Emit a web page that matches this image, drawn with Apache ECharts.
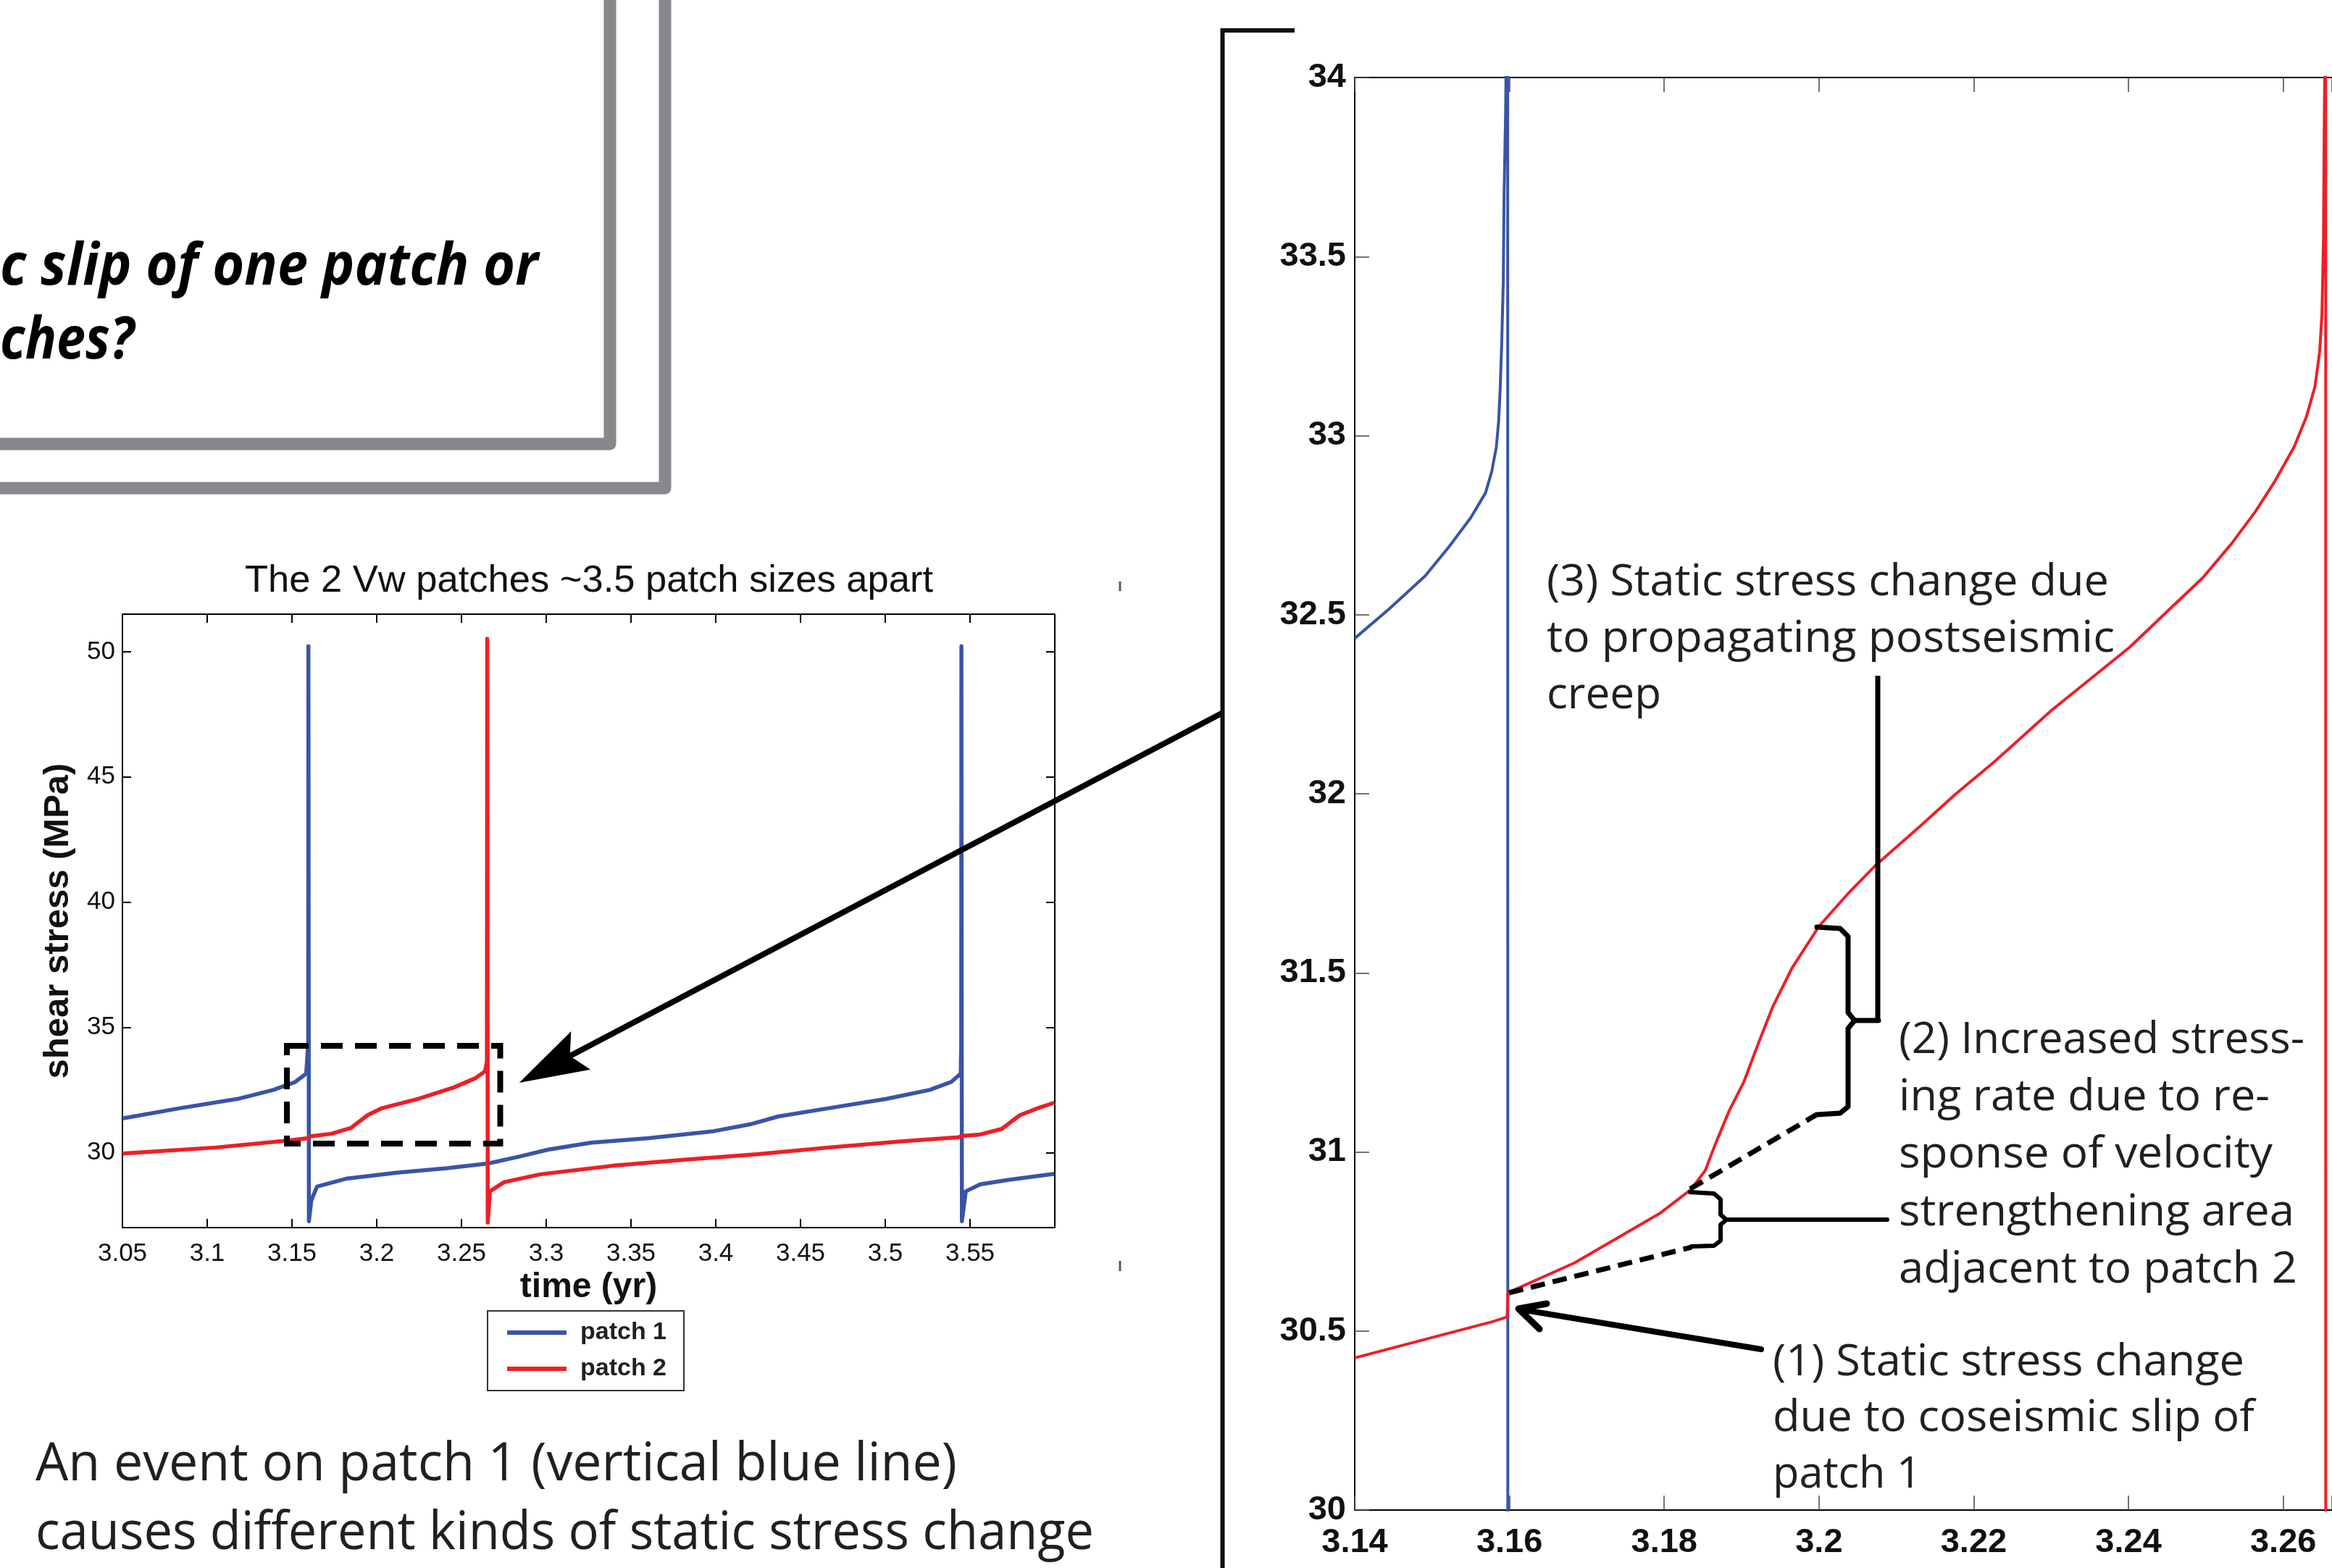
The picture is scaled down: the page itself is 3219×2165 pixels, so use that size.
<!DOCTYPE html>
<html><head><meta charset="utf-8">
<script src="https://cdn.jsdelivr.net/npm/echarts@6/dist/echarts.min.js"></script>
<style>html,body{margin:0;padding:0;background:#fff}#c{width:3219px;height:2165px}</style>
</head><body><div id="c"></div>
<script>
// ---------------- data ----------------
// overview plot: time (yr), shear stress (MPa)
const patch1Overview = [
  [3.05,31.36],[3.084,31.77],[3.118,32.14],[3.139,32.50],[3.152,32.82],[3.1584,33.15],[3.1596,34.35],
  [3.1597,50.22],[3.1600,27.25],[3.1614,28.08],[3.1648,28.64],[3.1818,28.95],[3.2116,29.19],[3.2413,29.37],
  [3.2656,29.56],[3.2838,29.83],[3.3008,30.11],[3.3264,30.39],[3.3604,30.57],[3.3986,30.85],[3.42,31.12],
  [3.4369,31.44],[3.4667,31.77],[3.5007,32.14],[3.5262,32.50],[3.539,32.82],[3.5445,33.15],[3.5448,34.35],
  [3.5449,50.22],[3.5452,27.25],[3.5475,28.45],[3.556,28.73],[3.573,28.91],[3.5997,29.15]
];
const patch2Overview = [
  [3.05,29.96],[3.1053,30.2],[3.1478,30.48],[3.1597,30.57],[3.1600,30.64],[3.1733,30.75],[3.1848,30.98],
  [3.1946,31.49],[3.2031,31.77],[3.2243,32.14],[3.2456,32.60],[3.2583,32.97],[3.2639,33.24],[3.2650,33.61],
  [3.2652,50.52],[3.2655,27.2],[3.2668,28.45],[3.2753,28.82],[3.2966,29.13],[3.3391,29.47],[3.3816,29.71],
  [3.4241,29.93],[3.4667,30.2],[3.5092,30.44],[3.5432,30.61],[3.545,30.66],[3.556,30.72],[3.5687,30.94],
  [3.5794,31.49],[3.59,31.77],[3.5997,31.99]
];
// zoomed plot
const patch1Zoom = [
  [3.14,32.434],[3.1444,32.515],[3.1491,32.608],[3.1522,32.69],[3.155,32.771],[3.1569,32.84],[3.1577,32.899],
  [3.1583,32.968],[3.1586,33.04],[3.1588,33.13],[3.159,33.26],[3.1592,33.43],[3.1593,33.67],[3.1595,33.9],
  [3.1596,34.1],[3.1597,50.2],[3.1598,27.3],[3.1614,28.08],[3.1648,28.64],[3.1818,28.95],[3.2116,29.19],
  [3.2413,29.37],[3.2656,29.56]
];
const patch2Zoom = [
  [3.14,30.425],[3.1578,30.526],[3.1597,30.539],[3.1598,30.607],[3.1684,30.69],[3.1738,30.758],[3.1794,30.828],
  [3.1834,30.894],[3.1853,30.948],[3.1865,31.016],[3.1884,31.115],[3.1903,31.196],[3.1922,31.305],[3.194,31.404],
  [3.1965,31.513],[3.2,31.63],[3.2037,31.72],[3.2074,31.802],[3.2131,31.91],[3.2177,32.0],[3.2227,32.09],
  [3.23,32.232],[3.2402,32.41],[3.2449,32.507],[3.2496,32.603],[3.2533,32.698],[3.2564,32.788],[3.2589,32.872],
  [3.2614,32.968],[3.263,33.053],[3.2641,33.137],[3.2647,33.233],[3.265,33.338],[3.2652,33.55],[3.2653,33.87],
  [3.2654,34.1],[3.26545,50.5],[3.2655,27.2]
];
const overviewStressTicks = [30, 35, 40, 45, 50];
const seriesNames = ['patch 1', 'patch 2'];

// ---------------- styling ----------------
const BLUE = '#3a54a5', RED = '#ee1f25', INK = '#231f20';
const ctx2d = document.createElement('canvas').getContext('2d');
function fitText(str, x, baseline, targetW, size, o) {
  o = o || {};
  const family = o.family || 'Open Sans', weight = o.weight || 'normal', fstyle = o.fstyle || 'normal';
  ctx2d.font = fstyle + ' ' + weight + ' ' + size + 'px "' + family + '"';
  const w = ctx2d.measureText(str).width;
  const mid = o.mid != null ? o.mid : (family === 'Open Sans' ? 0.30 : 0.3465);
  return {
    type: 'text', x: x, y: baseline - mid * size, scaleX: targetW ? targetW / w : 1, z: 100,
    style: { text: str, fontSize: size, fontFamily: family, fontWeight: weight, fontStyle: fstyle,
      fill: o.color || INK, align: o.align || 'left', verticalAlign: 'middle' }
  };
}
function pl(points, width, extra) {
  return Object.assign({ type: 'polyline', z: 100, shape: { points: points },
    style: Object.assign({ stroke: '#000', lineWidth: width, fill: 'none', lineJoin: 'round', lineCap: 'round' }, extra || {}) });
}
const fmt2 = v => { const r = Math.round(v * 100) / 100; return Math.abs(v - r) < 1e-6 ? String(r) : ''; };

const graphics = [
  // slide frame remnants
  { type: 'polyline', shape: { points: [[842, -20], [842, 613], [-20, 613]] }, style: { stroke: '#87888c', lineWidth: 17, fill: 'none', lineJoin: 'round' } },
  { type: 'polyline', shape: { points: [[918, -20], [918, 674], [-20, 674]] }, style: { stroke: '#87888c', lineWidth: 17, fill: 'none', lineJoin: 'round' } },
  fitText('c slip of one patch or', 0, 394, 743, 80, { weight: 'bold', fstyle: 'italic', color: '#000' }),
  fitText('ches?', 0, 496, 185, 80, { weight: 'bold', fstyle: 'italic', color: '#000' }),
  // left chart title
  fitText('The 2 Vw patches ~3.5 patch sizes apart', 813, 821, 950, 52, { family: 'Liberation Sans', align: 'center', color: '#111' }),
  // tiny crop marks
  pl([[1546, 803], [1546, 816]], 3, { stroke: '#555', lineCap: 'butt' }),
  pl([[1546, 1741], [1546, 1755]], 3, { stroke: '#555', lineCap: 'butt' }),
  // zoom window on overview
  { type: 'rect', z: 100, shape: { x: 396, y: 1444, width: 294.5, height: 135 }, style: { stroke: '#000', fill: 'none', lineWidth: 8, lineDash: [30, 17] } },
  // big arrow
  pl([[1688, 984], [783, 1460]], 8, { lineCap: 'butt' }),
  { type: 'polygon', z: 100, shape: { points: [[716.7, 1495], [788.3, 1424], [786.7, 1458], [815, 1476.7]] }, style: { fill: '#000' } },
  // right frame bracket
  pl([[1787, 42], [1687.5, 42], [1687.5, 2200]], 6, { stroke: '#111', lineCap: 'butt', lineJoin: 'miter' }),
  // bottom caption
  fitText('An event on patch 1 (vertical blue line)', 49, 2045, 1272, 74),
  fitText('causes different kinds of static stress change', 49, 2140, 1461, 74),
  // annotation (3)
  fitText('(3) Static stress change due', 2135, 823, 776, 60),
  fitText('to propagating postseismic', 2135, 901, 784, 60),
  fitText('creep', 2135, 979, 158, 60),
  // annotation (2)
  fitText('(2) Increased stress-', 2621, 1455, 560, 60),
  fitText('ing rate due to re-', 2621, 1534, 512, 60),
  fitText('sponse of velocity', 2621, 1613, 516, 60),
  fitText('strengthening area', 2621, 1693, 546, 60),
  fitText('adjacent to patch 2', 2621, 1772, 550, 60),
  // annotation (1)
  fitText('(1) Static stress change', 2447, 1900, 651, 60),
  fitText('due to coseismic slip of', 2447, 1977, 665, 60),
  fitText('patch 1', 2447, 2055, 205, 60),
  // leader for (3)
  pl([[2592, 933], [2592, 1409]], 7, { lineCap: 'butt' }),
  // big brace
  pl([[2508, 1280], [2540, 1282], [2551, 1293], [2551, 1398], [2560, 1409], [2593, 1409]], 7),
  pl([[2560, 1409], [2551, 1420], [2551, 1528], [2540, 1537], [2508, 1539]], 7),
  // small brace + leader for (2)
  pl([[2333, 1646], [2366, 1648], [2375, 1656], [2375, 1677], [2383, 1684], [2605, 1684]], 6),
  pl([[2383, 1684], [2375, 1691], [2375, 1713], [2366, 1720], [2335, 1721]], 6),
  // dashed extrapolations
  pl([[2333, 1641.5], [2508, 1538.8]], 7, { lineDash: [20, 11], lineCap: 'butt' }),
  pl([[2083, 1785], [2335, 1722]], 7, { lineDash: [20, 11], lineCap: 'butt' }),
  // arrow (1)
  pl([[2431, 1863], [2099, 1808]], 8),
  pl([[2135, 1800], [2096, 1807], [2125, 1835]], 9)
];

const axisBlack = { lineStyle: { color: '#000', width: 2 } };
const chart = echarts.init(document.getElementById('c'), null, { renderer: 'canvas' });
chart.setOption({
  animation: false,
  backgroundColor: '#fff',
  grid: [
    { left: 169, top: 848, width: 1287, height: 847, outerBoundsMode: 'none' },
    { left: 1870, top: 107, width: 1349, height: 1978, outerBoundsMode: 'none' }
  ],
  legend: {
    data: seriesNames, orient: 'vertical', left: 673, top: 1810, icon: 'rect', itemWidth: 82, itemHeight: 6,
    itemGap: 10, padding: [10, 24, 10, 27], borderColor: '#333', borderWidth: 2, selectedMode: false,
    textStyle: { fontFamily: 'Liberation Sans', fontWeight: 'bold', fontSize: 34, color: INK, lineHeight: 40, padding: [0, 0, 0, 14] }
  },
  xAxis: [
    { type: 'value', gridIndex: 0, position: 'bottom', min: 3.05, max: 3.6, interval: 0.05,
      axisLine: axisBlack, axisTick: { inside: true, length: 12, lineStyle: { color: '#000', width: 2 } },
      axisLabel: { fontFamily: 'Liberation Sans', fontSize: 35, color: '#111', margin: 19, formatter: v => v > 3.59 ? '' : fmt2(v) },
      splitLine: { show: false },
      name: 'time (yr)', nameLocation: 'middle', nameGap: 59,
      nameTextStyle: { fontFamily: 'Liberation Sans', fontWeight: 'bold', fontSize: 48, color: '#111' } },
    { type: 'value', gridIndex: 0, position: 'top', min: 3.05, max: 3.6, interval: 0.05,
      axisLine: axisBlack, axisTick: { inside: true, length: 12, lineStyle: { color: '#000', width: 2 } },
      axisLabel: { show: false }, splitLine: { show: false } },
    { type: 'value', gridIndex: 1, position: 'bottom', min: 3.14, max: 3.2663, interval: 0.02,
      axisLine: axisBlack, axisTick: { inside: true, length: 20, lineStyle: { color: '#444', width: 1.5 } },
      axisLabel: { fontFamily: 'Liberation Sans', fontWeight: 'bold', fontSize: 47, color: '#111', margin: 22, formatter: fmt2 },
      splitLine: { show: false } },
    { type: 'value', gridIndex: 1, position: 'top', min: 3.14, max: 3.2663, interval: 0.02,
      axisLine: axisBlack, axisTick: { inside: true, length: 20, lineStyle: { color: '#444', width: 1.5 } },
      axisLabel: { show: false }, splitLine: { show: false } }
  ],
  yAxis: [
    { type: 'value', gridIndex: 0, position: 'left', min: 27, max: 51.5,
      axisLine: axisBlack,
      axisTick: { inside: true, length: 12, customValues: overviewStressTicks, lineStyle: { color: '#000', width: 2 } },
      axisLabel: { fontFamily: 'Liberation Sans', fontSize: 35, color: '#111', margin: 10, customValues: overviewStressTicks },
      splitLine: { show: false },
      name: 'shear stress (MPa)', nameLocation: 'middle', nameGap: 64, nameRotate: 90,
      nameTextStyle: { fontFamily: 'Liberation Sans', fontWeight: 'bold', fontSize: 49, color: '#111' } },
    { type: 'value', gridIndex: 0, position: 'right', min: 27, max: 51.5,
      axisLine: axisBlack,
      axisTick: { inside: true, length: 12, customValues: overviewStressTicks, lineStyle: { color: '#000', width: 2 } },
      axisLabel: { show: false }, splitLine: { show: false } },
    { type: 'value', gridIndex: 1, position: 'left', min: 30, max: 34, interval: 0.5,
      axisLine: axisBlack, axisTick: { inside: true, length: 20, lineStyle: { color: '#444', width: 1.5 } },
      axisLabel: { fontFamily: 'Liberation Sans', fontWeight: 'bold', fontSize: 47, color: '#111', margin: 12 },
      splitLine: { show: false } }
  ],
  series: [
    { type: 'line', name: seriesNames[0], xAxisIndex: 0, yAxisIndex: 0, data: patch1Overview, symbol: 'none',
      lineStyle: { color: BLUE, width: 5.5, join: 'round' }, itemStyle: { color: BLUE } },
    { type: 'line', name: seriesNames[1], xAxisIndex: 0, yAxisIndex: 0, data: patch2Overview, symbol: 'none',
      lineStyle: { color: RED, width: 5.5, join: 'round' }, itemStyle: { color: RED } },
    { type: 'line', name: seriesNames[0], xAxisIndex: 2, yAxisIndex: 2, data: patch1Zoom, symbol: 'none',
      lineStyle: { color: BLUE, width: 4, join: 'round' }, itemStyle: { color: BLUE } },
    { type: 'line', name: seriesNames[1], xAxisIndex: 2, yAxisIndex: 2, data: patch2Zoom, symbol: 'none',
      lineStyle: { color: RED, width: 4, join: 'round' }, itemStyle: { color: RED } }
  ],
  graphic: graphics
});
</script></body></html>
